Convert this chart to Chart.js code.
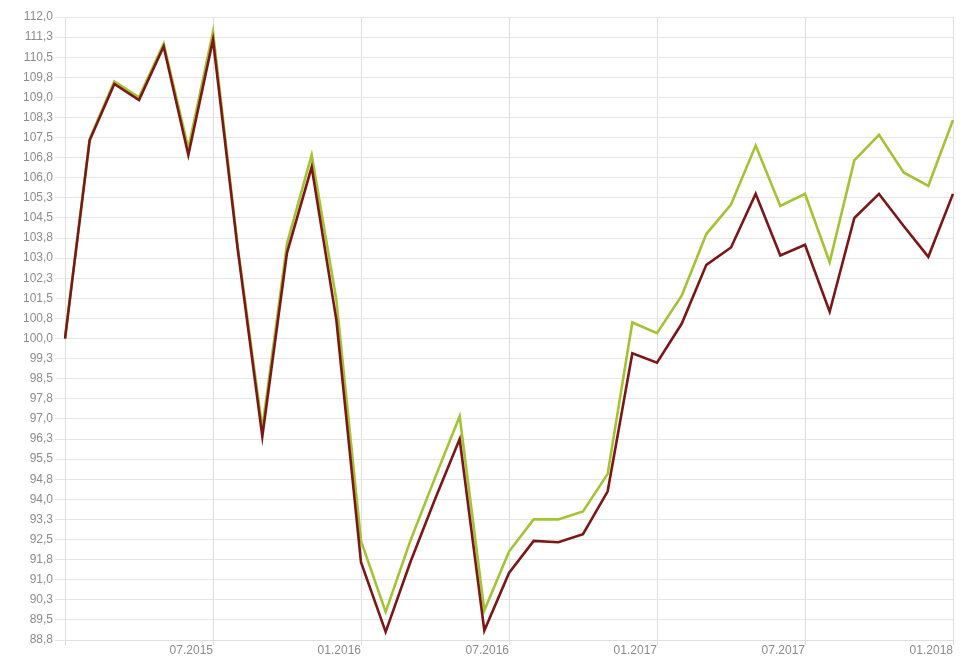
<!DOCTYPE html>
<html>
<head>
<meta charset="utf-8">
<script src="https://cdn.jsdelivr.net/npm/chart.js@4/dist/chart.umd.min.js"></script>
<style>
  html, body { margin: 0; padding: 0; background: #fff; }
  #wrap { width: 976px; height: 667px; }
</style>
</head>
<body>
<div id="wrap"><canvas id="chart"></canvas></div>
<script>
const months = [
  "01.2015","02.2015","03.2015","04.2015","05.2015","06.2015",
  "07.2015","08.2015","09.2015","10.2015","11.2015","12.2015",
  "01.2016","02.2016","03.2016","04.2016","05.2016","06.2016",
  "07.2016","08.2016","09.2016","10.2016","11.2016","12.2016",
  "01.2017","02.2017","03.2017","04.2017","05.2017","06.2017",
  "07.2017","08.2017","09.2017","10.2017","11.2017","12.2017",
  "01.2018"
];

const darkSeries = [
  100.0, 107.4, 109.5, 108.9, 110.9, 106.85,
  111.15, 103.35, 96.35, 103.2, 106.4, 100.7,
  91.65, 89.05, 91.65, 94.0, 96.25, 89.1,
  91.25, 92.45, 92.4, 92.7, 94.3, 99.45,
  99.1, 100.55, 102.75, 103.4, 105.4, 103.1,
  103.5, 101.0, 104.5, 105.4, 104.2, 103.05,
  105.4
];

const greenSeries = [
  100.0, 107.45, 109.6, 109.0, 111.0, 107.1,
  111.45, 103.45, 96.65, 103.55, 106.85, 101.45,
  92.45, 89.8, 92.45, 94.8, 97.1, 89.85,
  92.05, 93.25, 93.25, 93.55, 94.95, 100.6,
  100.2, 101.6, 103.9, 105.0, 107.2, 104.95,
  105.4, 102.85, 106.65, 107.6, 106.2, 105.7,
  108.15
];

const yMin = 88.75;
const yMax = 112;
const yStep = 0.75;

const tickFont = { family: "'Liberation Sans', Arial, sans-serif", size: 12 };
const tickColor = '#8c8c8c';

new Chart(document.getElementById('chart'), {
  type: 'line',
  data: {
    labels: months,
    datasets: [
      {
        data: darkSeries,
        borderColor: '#7d1717',
        borderWidth: 2.6,
        pointRadius: 0,
        tension: 0
      },
      {
        data: greenSeries,
        borderColor: '#a2c431',
        borderWidth: 2.6,
        pointRadius: 0,
        tension: 0
      }
    ]
  },
  options: {
    responsive: true,
    maintainAspectRatio: false,
    animation: false,
    layout: { padding: { top: 17, right: 23, left: 0, bottom: 0 } },
    plugins: {
      legend: { display: false },
      tooltip: { enabled: false }
    },
    scales: {
      x: {
        offset: false,
        grid: {
          color: '#dedede',
          lineWidth: 1,
          tickLength: 5
        },
        border: { color: '#dedede' },
        ticks: {
          autoSkip: false,
          maxRotation: 0,
          align: 'end',
          padding: -2,
          font: tickFont,
          color: tickColor,
          callback: function (value, index) {
            if (index === 0) return '';
            return index % 6 === 0 ? months[index] : null;
          }
        },
        afterFit: function (scale) { scale.height = 27; }
      },
      y: {
        min: yMin,
        max: yMax,
        grid: {
          color: '#e6e6e6',
          lineWidth: 1,
          tickLength: 10
        },
        border: { color: '#dedede' },
        ticks: {
          stepSize: yStep,
          padding: 2,
          font: tickFont,
          color: tickColor,
          callback: function (value) {
            return value.toFixed(1).replace('.', ',');
          }
        },
        afterFit: function (scale) { scale.width = 65; }
      }
    }
  }
});
</script>
</body>
</html>
